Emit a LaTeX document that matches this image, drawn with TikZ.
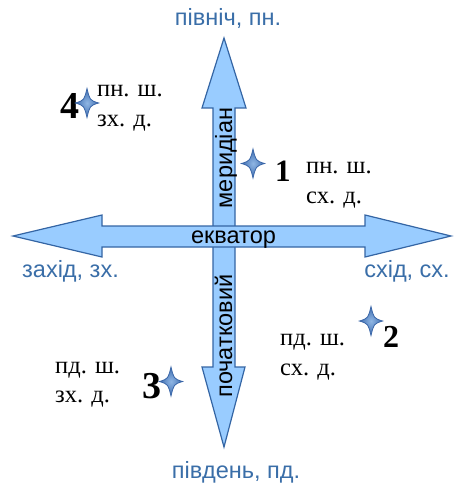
\documentclass[tikz,border=0pt]{standalone}
\usepackage{fontspec}
\setmainfont{Liberation Serif}
\newfontfamily\sansf{Liberation Sans}
\definecolor{arrfill}{HTML}{99CCFF}
\definecolor{arrline}{HTML}{3465A4}
\definecolor{lbl}{HTML}{3A6EA8}
\definecolor{starout}{HTML}{3E6DB0}
\definecolor{starin}{HTML}{8FB6E4}
\definecolor{starline}{HTML}{3A66A8}
\begin{document}
\begin{tikzpicture}[x=1pt,y=-1pt,
  arrowshape/.style={draw=arrline,fill=arrfill,line width=1.2pt,line join=miter},
  dirlbl/.style={inner sep=0pt,text=lbl,font=\sansf\fontsize{23.5}{28}\selectfont},
  axlbl/.style={inner sep=0pt,text=black,font=\sansf\fontsize{23.5}{28}\selectfont},
  coordlbl/.style={inner sep=0pt,anchor=base west,font=\fontsize{24.5}{28}\selectfont},
  numlbl/.style={inner sep=0pt,anchor=base west,font=\bfseries\fontsize{#1}{40}\selectfont},
  star4/.pic={
    \path[inner color=starin,outer color=starout,draw=starline,line width=0.8pt]
      (0,-14.5) .. controls (2.8,-2.8) .. (11.5,0)
      .. controls (2.8,2.8) .. (0,14.5)
      .. controls (-2.8,2.8) .. (-11.5,0)
      .. controls (-2.8,-2.8) .. cycle;
  }]
\useasboundingbox (0,0) rectangle (453,484);
% vertical double arrow
\draw[arrowshape] (224,38) -- (246,108) -- (235,108) -- (235,367) -- (245,367)
  -- (224,447) -- (202,367) -- (213,367) -- (213,108) -- (202,108) -- cycle;
% horizontal double arrow
\draw[arrowshape] (13,236) -- (102,215) -- (102,226) -- (365,226) -- (365,215)
  -- (451,236) -- (365,257) -- (365,247) -- (102,247) -- (102,257) -- cycle;
% axis labels
\node[axlbl,anchor=base] (eq) at (233.5,243) {екватор};
\node[axlbl,rotate=90,anchor=base] (mer) at (232,158) {меридіан};
\node[axlbl,rotate=90,anchor=base] (poch) at (232,336) {початковий};
% directions
\node[dirlbl,anchor=base] (north) at (228,26) {північ, пн.};
\node[dirlbl,anchor=base west] (west) at (22,277) {захід, зх.};
\node[dirlbl,anchor=base east] (east) at (450,277) {схід, сх.};
\node[dirlbl,anchor=base] (south) at (236,478) {південь, пд.};
% point 4
\node[numlbl=38] (n4) at (60,118) {4};
\pic at (87,103) {star4};
\node[coordlbl] (c4a) at (97,96) {пн. ш.};
\node[coordlbl] (c4b) at (97,127) {зх. д.};
% point 1
\pic at (253,163.5) {star4};
\node[numlbl=31] (n1) at (275,181) {1};
\node[coordlbl] (c1a) at (306,173) {пн. ш.};
\node[coordlbl] (c1b) at (306,203) {сх. д.};
% point 2
\node[coordlbl] (c2a) at (280,345) {пд. ш.};
\node[coordlbl] (c2b) at (280,375) {сх. д.};
\pic at (371,321) {star4};
\node[numlbl=32] (n2) at (383,347) {2};
% point 3
\node[coordlbl] (c3a) at (55,373) {пд. ш.};
\node[coordlbl] (c3b) at (55,402) {зх. д.};
\node[numlbl=38] (n3) at (142,398) {3};
\pic at (171,381.5) {star4};
\end{tikzpicture}
\end{document}
